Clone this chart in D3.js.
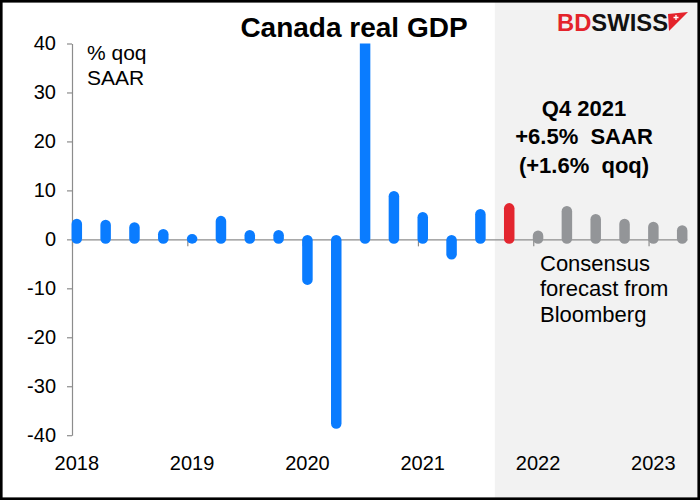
<!DOCTYPE html>
<html>
<head>
<meta charset="utf-8">
<script src="https://cdn.jsdelivr.net/npm/d3@7"></script>
<style>
  html, body { margin: 0; padding: 0; background: #fff; }
  svg { display: block; font-family: "Liberation Sans", Arial, sans-serif; }
</style>
</head>
<body>
<svg id="chart" width="700" height="500"></svg>
<script>
// ---- data ----
const quarters = ["2018Q1","2018Q2","2018Q3","2018Q4","2019Q1","2019Q2","2019Q3","2019Q4",
  "2020Q1","2020Q2","2020Q3","2020Q4","2021Q1","2021Q2","2021Q3","2021Q4",
  "2022Q1","2022Q2","2022Q3","2022Q4","2023Q1","2023Q2"];
const gdpValues = [3.3, 3.1, 2.6, 1.2, 0.2, 3.9, 1.0, 1.0,
  -8.4, -37.8, 41.0, 9.0, 4.7, -3.2, 5.3, 6.5,
  0.9, 5.9, 4.3, 3.3, 2.7, 2.0];
const barKind = ["actual","actual","actual","actual","actual","actual","actual","actual",
  "actual","actual","actual","actual","actual","actual","actual","latest",
  "forecast","forecast","forecast","forecast","forecast","forecast"];
const yTicks = [-40, -30, -20, -10, 0, 10, 20, 30, 40];
const yearLabels = ["2018", "2019", "2020", "2021", "2022", "2023"];
const shadeStart = "2021-09";       // start of shaded forecast area
const axisEnd = "2023-05";
const annotationLines = ["Q4 2021", "+6.5%  SAAR", "(+1.6%  qoq)"];
const noteLines = ["Consensus", "forecast from", "Bloomberg"];

// ---- helpers ----
const monthOfQuarter = q => (+q.slice(0,4) - 2018) * 12 + (+q.slice(5) - 1) * 3;
const monthOfYM = s => (+s.slice(0,4) - 2018) * 12 + (+s.slice(5) - 1);
const colors = { actual: "#0A7CFF", latest: "#E3262F", forecast: "#939598" };

const svg = d3.select("#chart");
const W = 700, H = 500;

const x = d3.scaleLinear().domain([0, monthOfYM(axisEnd)]).range([72, 687]);
const y = d3.scaleLinear().domain([-40, 40]).range([435.2, 43.5]);

// shaded forecast area
svg.append("rect")
  .attr("x", x(monthOfYM(shadeStart))).attr("y", 0)
  .attr("width", W - x(monthOfYM(shadeStart))).attr("height", H)
  .attr("fill", "#f2f2f2");

// clip for bars
svg.append("defs").append("clipPath").attr("id", "plotclip")
  .append("rect").attr("x", 60).attr("y", y(40)).attr("width", 640).attr("height", y(-40) - y(40) + 10);

// x axis ticks
const axisColor = "#8c8c8c";
const xAxis = svg.append("g").attr("transform", `translate(0,${y(0)})`)
  .call(d3.axisBottom(x).tickValues(yearLabels.map(yl => monthOfYM(yl + "-01")))
    .tickFormat("").tickSizeInner(7).tickSizeOuter(0));
xAxis.selectAll("path,line").attr("stroke", axisColor).attr("stroke-width", 1.2);

// y axis
const yAxis = svg.append("g").attr("transform", `translate(${x(0)},0)`)
  .call(d3.axisLeft(y).tickValues(yTicks).tickFormat(d => String(d))
    .tickSizeInner(5).tickSizeOuter(0).tickPadding(11));
yAxis.selectAll("path,line").attr("stroke", axisColor).attr("stroke-width", 1.2);
yAxis.selectAll("text").attr("font-size", 20).attr("fill", "#000")
  .attr("font-family", "'Liberation Sans', Arial, sans-serif");

// bars
const barW = 10.5, ext = 4.4;
svg.append("g").attr("clip-path", "url(#plotclip)")
  .selectAll("rect").data(quarters).join("rect")
  .attr("x", (q) => x(monthOfQuarter(q) + 0.5) - barW / 2)
  .attr("y", (q, i) => Math.min(y(gdpValues[i]), y(0)) - ext)
  .attr("width", barW)
  .attr("height", (q, i) => Math.abs(y(gdpValues[i]) - y(0)) + 2 * ext)
  .attr("rx", barW / 2).attr("ry", barW / 2)
  .attr("fill", (q, i) => colors[barKind[i]]);

// year labels
svg.append("g").selectAll("text").data(yearLabels).join("text")
  .attr("x", yl => x(monthOfYM(yl + "-01") + 0.5))
  .attr("y", 470)
  .attr("text-anchor", "middle").attr("font-size", 20).attr("fill", "#000")
  .text(d => d);

// title
svg.append("text").attr("x", 354).attr("y", 37).attr("text-anchor", "middle")
  .attr("font-size", 28).attr("font-weight", "bold").text("Canada real GDP");

// unit label
svg.append("text").attr("x", 87).attr("y", 60).attr("font-size", 21).text("% qoq");
svg.append("text").attr("x", 87).attr("y", 85).attr("font-size", 21).text("SAAR");

// annotation
svg.append("g").selectAll("text").data(annotationLines).join("text")
  .attr("x", 584).attr("y", (d, i) => 115.5 + i * 28.5)
  .attr("text-anchor", "middle").attr("font-size", 22).attr("font-weight", "bold")
  .attr("xml:space", "preserve").style("white-space", "pre")
  .text(d => d);

// note
svg.append("g").selectAll("text").data(noteLines).join("text")
  .attr("x", 540).attr("y", (d, i) => 271 + i * 25.3)
  .attr("font-size", 22).attr("fill", "#000")
  .text(d => d);

// logo
const logo = svg.append("g");
logo.append("text").attr("x", 557).attr("y", 30.5).attr("font-size", 23.5)
  .attr("font-weight", 900).attr("textLength", 111).attr("lengthAdjust", "spacingAndGlyphs")
  .call(t => {
    t.append("tspan").attr("fill", "#E4232B").text("BD");
    t.append("tspan").attr("fill", "#111").text("SWISS");
  });
logo.append("path").attr("d", "M668,14 L688,12 L669,31 Z").attr("fill", "#E4232B");
logo.append("path").attr("d", "M673.5,17.5 h5 M676,15 v5").attr("stroke", "#fff").attr("stroke-width", 1.3);

// border
svg.append("rect").attr("x", 1.3).attr("y", 1.3).attr("width", W - 2.6).attr("height", H - 2.6)
  .attr("fill", "none").attr("stroke", "#000").attr("stroke-width", 2.6);
</script>
</body>
</html>
